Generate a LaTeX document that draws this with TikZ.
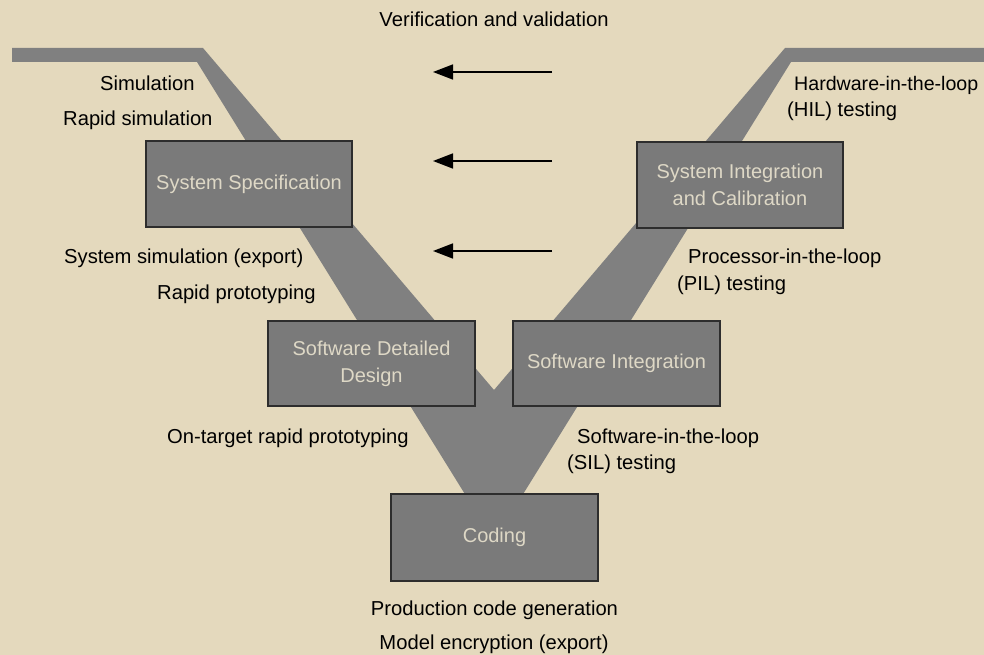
\documentclass[tikz,border=0pt]{standalone}
\usepackage{fontspec}
\setmainfont{Liberation Sans}
\usetikzlibrary{arrows.meta}
\definecolor{bg}{RGB}{228,217,189}
\definecolor{band}{RGB}{128,128,128}
\definecolor{boxfill}{RGB}{122,122,122}
\definecolor{boxline}{RGB}{45,45,45}
\definecolor{boxtext}{RGB}{222,216,198}
\begin{document}
\begin{tikzpicture}[x=1pt,y=-1pt,
  stage/.style={draw=boxline, line width=1.2pt, fill=boxfill, text=boxtext, align=center,
    font=\fontsize{20}{27}\selectfont, inner sep=0pt},
  lbl/.style={text=black, font=\fontsize{20.2}{22}\selectfont, inner sep=0pt, anchor=base west},
  clbl/.style={lbl, anchor=base},
  vv/.style={-{Triangle[length=20pt,width=15pt]}, line width=1.5pt}]
\useasboundingbox (0,0) rectangle (984,655);
\fill[bg] (0,0) rectangle (984,655);
% V band
\fill[band] (12,48) -- (203,48) -- (494,390) -- (785,48) -- (995,48) -- (995,62)
  -- (791,62) -- (494,541) -- (197,62) -- (12,62) -- cycle;
% stages
\node[stage, minimum width=206pt, minimum height=86pt] (ss) at (249,184) {System Specification};
\node[stage, minimum width=206pt, minimum height=86pt] (sic) at (740,185) {System Integration\\and Calibration};
\node[stage, minimum width=207pt, minimum height=85pt] (sdd) at (371.5,363.5) {Software Detailed\\Design};
\node[stage, minimum width=207pt, minimum height=85pt] (si) at (616.5,363.5) {Software Integration};
\node[stage, minimum width=207pt, minimum height=87pt] (cod) at (494.5,537.5) {Coding};
% labels
\node[clbl] (vvt) at (494,27) {Verification and validation};
\node[lbl] (l1) at (100,91) {Simulation};
\node[lbl] (l2) at (63,126) {Rapid simulation};
\node[lbl] (l3) at (64,263) {System simulation (export)};
\node[lbl] (l4) at (157,299) {Rapid prototyping};
\node[lbl] (l5) at (167,443) {On-target rapid prototyping};
\node[clbl] (l6) at (494.5,615) {Production code generation};
\node[clbl] (l7) at (494,649) {Model encryption (export)};
\node[lbl, font=\fontsize{19.6}{22}\selectfont] (r1) at (794,91) {Hardware-in-the-loop};
\node[lbl] (r2) at (787,117) {(HIL) testing};
\node[lbl] (r3) at (688,263) {Processor-in-the-loop};
\node[lbl] (r4) at (677,290) {(PIL) testing};
\node[lbl] (r5) at (577,443) {Software-in-the-loop};
\node[lbl] (r6) at (567,469) {(SIL) testing};
% arrows
\coordinate (a1s) at (552,72); \coordinate (a1e) at (433,72);
\coordinate (a2s) at (552,161); \coordinate (a2e) at (433,161);
\coordinate (a3s) at (552,251); \coordinate (a3e) at (433,251);
\draw[vv] (a1s) -- (a1e);
\draw[vv] (a2s) -- (a2e);
\draw[vv] (a3s) -- (a3e);
\end{tikzpicture}
\end{document}
